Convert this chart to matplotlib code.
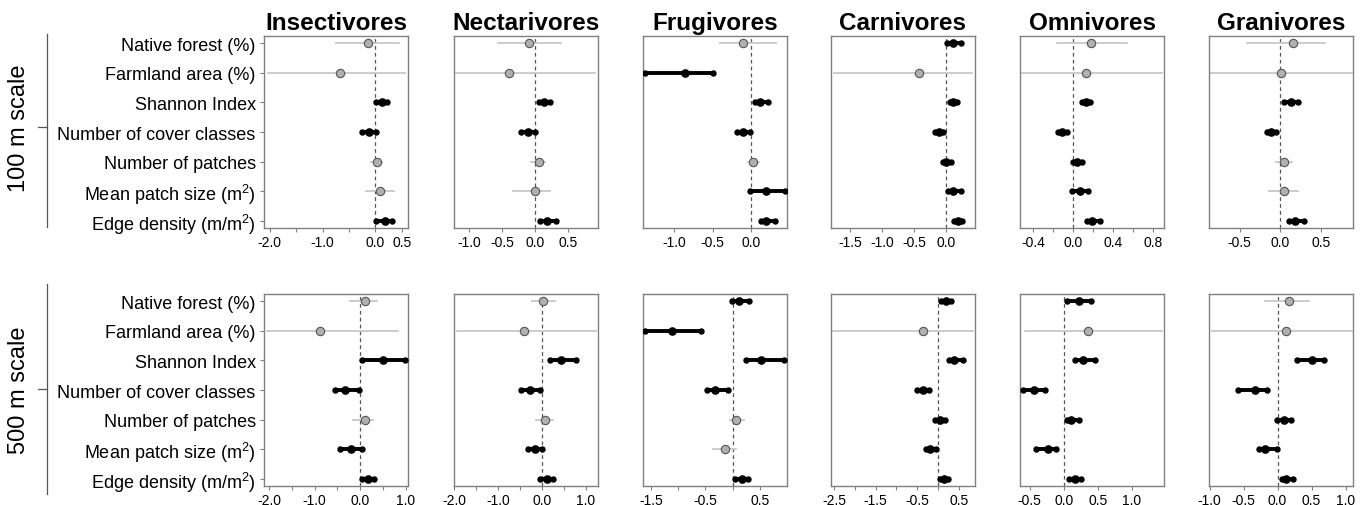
import numpy as np
import matplotlib
matplotlib.use("Agg")
import matplotlib.pyplot as plt
from matplotlib.lines import Line2D

plt.rcParams['font.family'] = ['Liberation Sans', 'DejaVu Sans']

guilds = ['Insectivores', 'Nectarivores', 'Frugivores', 'Carnivores', 'Omnivores', 'Granivores']
predictors = ['Native forest (%)', 'Farmland area (%)', 'Shannon Index', 'Number of cover classes',
              'Number of patches', 'Mean patch size (m$^{\\mathregular{2}}$)',
              'Edge density (m/m$^{\\mathregular{2}}$)']
scales = ['100 m scale', '500 m scale']

# 100 m scale: estimate, lower, upper, significant (black) per guild, rows top to bottom
est100 = [[-0.13, -0.66, 0.12, -0.11, 0.03, 0.08, 0.19],
          [-0.10, -0.40, 0.14, -0.11, 0.06, 0.00, 0.18],
          [-0.10, -0.86, 0.12, -0.11, 0.02, 0.20, 0.19],
          [0.11, -0.42, 0.11, -0.11, 0.01, 0.11, 0.19],
          [0.18, 0.13, 0.13, -0.11, 0.04, 0.07, 0.19],
          [0.16, 0.01, 0.13, -0.11, 0.04, 0.04, 0.18]]
lo100 = [[-0.75, -2.04, 0.01, -0.25, -0.09, -0.18, 0.02],
         [-0.56, -1.20, 0.05, -0.21, -0.06, -0.34, 0.07],
         [-0.41, -1.38, 0.05, -0.18, -0.04, -0.01, 0.13],
         [0.02, -1.75, 0.06, -0.17, -0.05, 0.04, 0.13],
         [-0.16, -0.51, 0.09, -0.15, 0.00, -0.01, 0.14],
         [-0.41, -0.85, 0.05, -0.16, -0.05, -0.14, 0.10]]
hi100 = [[0.44, 0.56, 0.22, 0.02, 0.13, 0.36, 0.31],
         [0.39, 0.91, 0.22, -0.01, 0.15, 0.22, 0.31],
         [0.33, -0.50, 0.22, -0.01, 0.11, 0.44, 0.31],
         [0.24, 0.41, 0.18, -0.05, 0.08, 0.24, 0.26],
         [0.54, 0.89, 0.17, -0.06, 0.09, 0.15, 0.27],
         [0.55, 0.88, 0.21, -0.05, 0.14, 0.22, 0.29]]
sig100 = [[0, 0, 1, 1, 0, 0, 1],
          [0, 0, 1, 1, 0, 0, 1],
          [0, 1, 1, 1, 0, 1, 1],
          [1, 0, 1, 1, 1, 1, 1],
          [0, 0, 1, 1, 1, 1, 1],
          [0, 0, 1, 1, 0, 0, 1]]

# 500 m scale
est500 = [[0.10, -0.88, 0.50, -0.34, 0.10, -0.19, 0.18],
          [0.03, -0.40, 0.43, -0.28, 0.07, -0.16, 0.12],
          [0.12, -1.12, 0.53, -0.32, 0.06, -0.15, 0.17],
          [0.20, -0.36, 0.39, -0.36, 0.05, -0.18, 0.14],
          [0.22, 0.36, 0.28, -0.43, 0.10, -0.23, 0.16],
          [0.17, 0.13, 0.50, -0.33, 0.09, -0.18, 0.13]]
lo500 = [[-0.22, -2.05, 0.04, -0.55, -0.15, -0.45, 0.05],
         [-0.22, -1.94, 0.18, -0.47, -0.13, -0.32, -0.03],
         [-0.02, -1.61, 0.24, -0.48, -0.05, -0.37, 0.05],
         [0.08, -2.52, 0.27, -0.51, -0.07, -0.28, 0.06],
         [0.05, -0.56, 0.16, -0.60, 0.05, -0.40, 0.08],
         [-0.18, -0.97, 0.29, -0.59, -0.01, -0.28, 0.07]]
hi500 = [[0.37, 0.84, 0.98, -0.02, 0.29, 0.05, 0.31],
         [0.30, 1.23, 0.77, -0.05, 0.26, 0.01, 0.26],
         [0.30, -0.58, 0.95, -0.09, 0.20, 0.07, 0.28],
         [0.31, 0.83, 0.59, -0.21, 0.17, -0.05, 0.24],
         [0.40, 1.44, 0.46, -0.28, 0.22, -0.11, 0.25],
         [0.46, 1.10, 0.68, -0.15, 0.20, -0.01, 0.23]]
sig500 = [[0, 0, 1, 1, 0, 1, 1],
          [0, 0, 1, 1, 0, 1, 1],
          [1, 1, 1, 1, 0, 0, 1],
          [1, 0, 1, 1, 1, 1, 1],
          [1, 0, 1, 1, 1, 1, 1],
          [0, 0, 1, 1, 1, 1, 1]]

# axis limits and ticks per panel
xlim100 = [(-2.11, 0.62), (-1.23, 0.95), (-1.41, 0.47), (-1.80, 0.46), (-0.53, 0.91), (-0.875, 0.89)]
xlim500 = [(-2.11, 1.05), (-2.0, 1.28), (-1.65, 1.00), (-2.57, 0.89), (-0.64, 1.47), (-1.01, 1.11)]
ticks100 = [[-2.0, -1.5, -1.0, -0.5, 0.0, 0.5], [-1.0, -0.5, 0.0, 0.5], [-1.0, -0.5, 0.0],
            [-1.5, -1.0, -0.5, 0.0], [-0.4, -0.2, 0.0, 0.2, 0.4, 0.6, 0.8], [-0.5, 0.0, 0.5]]
labels100 = [['-2.0', '', '-1.0', '', '0.0', '0.5'], ['-1.0', '-0.5', '0.0', '0.5'], ['-1.0', '-0.5', '0.0'],
             ['-1.5', '-1.0', '-0.5', '0.0'], ['-0.4', '', '0.0', '', '0.4', '', '0.8'], ['-0.5', '0.0', '0.5']]
ticks500 = [[-2.0, -1.5, -1.0, -0.5, 0.0, 0.5, 1.0], [-2.0, -1.5, -1.0, -0.5, 0.0, 0.5, 1.0],
            [-1.5, -1.0, -0.5, 0.0, 0.5], [-2.5, -2.0, -1.5, -1.0, -0.5, 0.0, 0.5],
            [-0.5, 0.0, 0.5, 1.0], [-1.0, -0.5, 0.0, 0.5, 1.0]]
labels500 = [['-2.0', '', '-1.0', '', '0.0', '', '1.0'], ['-2.0', '', '-1.0', '', '0.0', '', '1.0'],
             ['-1.5', '', '-0.5', '', '0.5'], ['-2.5', '', '-1.5', '', '-0.5', '', '0.5'],
             ['-0.5', '0.0', '0.5', '1.0'], ['-1.0', '-0.5', '0.0', '0.5', '1.0']]

W, H = 1360, 506
fig = plt.figure(figsize=(W / 100, H / 100), dpi=100)

lefts = [264, 454, 643, 831, 1020, 1209]
aw = 144
tops = [37, 295]
ah = 192

y = np.arange(7, 0, -1)
grey_line = '#c8c8c8'

for r, (est, lo, hi, sig, xl, tk, tl) in enumerate([
        (est100, lo100, hi100, sig100, xlim100, ticks100, labels100),
        (est500, lo500, hi500, sig500, xlim500, ticks500, labels500)]):
    for c in range(6):
        ax = fig.add_axes([lefts[c] / W, 1 - (tops[r] + ah) / H, aw / W, ah / H])
        ax.axvline(0, color='#555555', lw=0.9, ls=(0, (3, 2.5)), zorder=1)
        for i in range(7):
            if sig[c][i]:
                ax.plot([lo[c][i], hi[c][i]], [y[i], y[i]], color='black', lw=2.8,
                        marker='o', ms=3.6, solid_capstyle='butt', zorder=3)
                ax.plot(est[c][i], y[i], 'o', color='black', ms=5.2, zorder=4)
            else:
                ax.plot([lo[c][i], hi[c][i]], [y[i], y[i]], color=grey_line, lw=1.3, zorder=2)
                ax.plot(est[c][i], y[i], 'o', mfc='#b0b0b0', mec='#555555', mew=0.8,
                        ms=6, zorder=4)
        ax.set_xlim(*xl[c])
        ax.set_ylim(0.76, 7.24)
        ax.set_xticks(tk[c])
        ax.set_xticklabels(tl[c], fontsize=10)
        ax.tick_params(axis='x', length=3, color='#808080', pad=2)
        if c == 0:
            ax.set_yticks(y)
            ax.set_yticklabels(predictors, fontsize=13)
            ax.tick_params(axis='y', length=3, color='#808080', pad=3)
        else:
            ax.set_yticks([])
        for s in ax.spines.values():
            s.set_color('#808080')
            s.set_linewidth(1.0)
        if r == 0:
            ax.set_title(guilds[c], fontsize=17.5, fontweight='bold', pad=5)

# scale labels with a bracket line on the left
for r, (y0, y1, yt) in enumerate([(35, 228, 128), (285, 495, 390)]):
    fig.add_artist(Line2D([47 / W, 47 / W], [1 - y0 / H, 1 - y1 / H], color='#555555', lw=0.9))
    fig.add_artist(Line2D([38 / W, 47 / W], [1 - yt / H, 1 - yt / H], color='#555555', lw=0.9))
    fig.text(19 / W, 1 - yt / H, scales[r], rotation=90, ha='center', va='center', fontsize=17)

fig.savefig('out.png', dpi=100)
